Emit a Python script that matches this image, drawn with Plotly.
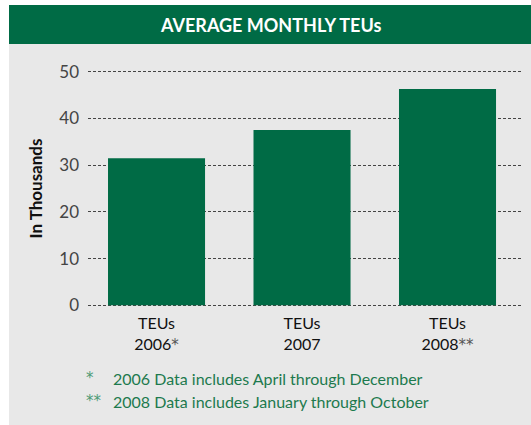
import plotly.graph_objects as go

# Average monthly TEUs, in thousands
star = "<span style='color:#555;font-family:DejaVu Sans;font-size:15px'>{}</span>"
categories = ["TEUs<br>2006" + star.format("*"),
              "TEUs<br>2007",
              "TEUs<br>2008" + star.format("**")]
teus = [31.5, 37.5, 46.3]
y_ticks = [0, 10, 20, 30, 40, 50]
footnotes = [("*", "2006 Data includes April through December"),
             ("**", "2008 Data includes January through October")]

W, H = 531, 425
ML, MR, MT, MB = 88, 9, 67, 115
GREEN = "#006b45"
GRAY = "#e8e8e8"
FONT = "Lato"


def px(x):
    return (x - ML) / (W - ML - MR)


def py(y):
    return (H - MB - y) / (H - MT - MB)


fig = go.Figure(go.Bar(
    x=[0, 1, 2], y=teus, width=0.667,
    marker=dict(color=GREEN, line=dict(width=0)),
    hoverinfo="skip",
))

shapes = [
    # grey panel
    dict(type="rect", xref="paper", yref="paper", layer="below",
         x0=px(9), x1=px(W), y0=py(H), y1=py(5),
         fillcolor=GRAY, line=dict(width=0)),
    # green header band
    dict(type="rect", xref="paper", yref="paper", layer="below",
         x0=px(9), x1=px(W), y0=py(44), y1=py(5),
         fillcolor=GREEN, line=dict(width=0)),
]

annotations = [
    dict(text="<b>AVERAGE MONTHLY TEUs</b>", xref="paper", yref="paper",
         x=px(270), y=py(25), yanchor="middle", showarrow=False,
         font=dict(family=FONT, size=18, color="white")),
]
for i, (mark, note) in enumerate(footnotes):
    yy = py(378 + i * 23)
    annotations.append(dict(text=mark, xref="paper", yref="paper", x=px(84), y=yy,
                            xanchor="left", yanchor="middle", showarrow=False,
                            font=dict(family="DejaVu Sans", size=15, color="#4d9a74")))
    annotations.append(dict(text=note, xref="paper", yref="paper", x=px(111), y=yy,
                            xanchor="left", yanchor="middle", showarrow=False,
                            font=dict(family=FONT, size=16, color="#1d7a4e")))

fig.update_layout(
    width=W, height=H,
    margin=dict(l=ML, r=MR, t=MT, b=MB, pad=0),
    paper_bgcolor="white",
    plot_bgcolor="rgba(0,0,0,0)",
    showlegend=False,
    shapes=shapes,
    annotations=annotations,
    font=dict(family=FONT, color="#222"),
    xaxis=dict(
        range=[-0.471, 2.512], tickvals=[0, 1, 2], ticktext=categories,
        showgrid=False, zeroline=False, showline=False, ticks="",
        ticklabelstandoff=2,
        tickfont=dict(family=FONT, size=16, color="#111"),
    ),
    yaxis=dict(
        range=[-1, 51], tickvals=y_ticks,
        showgrid=True, gridcolor="#444", gridwidth=1, griddash="3px,2px",
        zeroline=False, showline=False, ticks="", ticklabelstandoff=8,
        tickfont=dict(family=FONT, size=17, color="#444"),
        title=dict(text="<b>In Thousands</b>", standoff=12,
                   font=dict(family=FONT, size=17, color="#111")),
    ),
)

fig.write_html("out.html", config={"displayModeBar": False},
               post_script="document.body.style.margin='0';")
